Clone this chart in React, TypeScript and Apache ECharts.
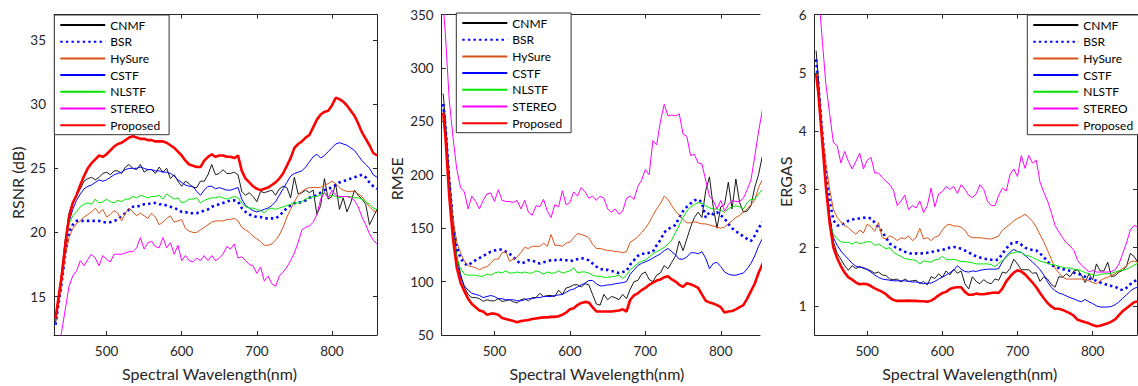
import React, { useEffect, useRef } from 'react';
import * as echarts from 'echarts';

// Wavelengths (nm)
const WL = [
  432, 435, 440, 445, 450, 455, 460, 465, 470, 475,
  480, 485, 490, 495, 500, 505, 510, 515, 520, 525,
  530, 535, 540, 545, 550, 555, 560, 565, 570, 575,
  580, 585, 590, 595, 600, 605, 610, 615, 620, 625,
  630, 635, 640, 645, 650, 655, 660, 665, 670, 675,
  680, 685, 690, 695, 700, 705, 710, 715, 720, 725,
  730, 735, 740, 745, 750, 755, 760, 765, 770, 775,
  780, 785, 790, 795, 800, 805, 810, 815, 820, 825,
  830, 835, 840, 845, 850, 855, 860,
];

const METHODS = ['CNMF', 'BSR', 'HySure', 'CSTF', 'NLSTF', 'STEREO', 'Proposed'];
const X_TICKS = [500, 600, 700, 800];

// ---------- RSNR (dB) ----------
const RSNR_CNMF = [
  13.2, 14.5, 16.8, 19.5, 21.5, 22.4, 22.9, 23.4, 24.0, 24.2,
  24.3, 24.1, 24.3, 24.6, 24.7, 24.5, 24.8, 24.8, 24.6, 25.1,
  25.3, 25.0, 24.9, 25.3, 24.7, 24.9, 24.9, 24.6, 25.1, 24.7,
  25.0, 24.2, 24.5, 24.0, 23.6, 24.0, 23.8, 23.5, 23.5, 24.0,
  24.0, 24.5, 25.3, 24.5, 24.6, 24.9, 24.6, 24.6, 24.7, 24.5,
  23.2, 22.9, 23.1, 22.8, 22.4, 23.2, 23.1, 23.2, 23.3, 22.9,
  23.4, 23.6, 23.5, 22.7, 24.3, 23.0, 23.1, 23.3, 23.1, 23.3,
  21.4, 22.1, 24.2, 22.6, 22.8, 23.8, 21.8, 22.7, 21.6, 22.3,
  23.3, 22.9, 22.6, 22.2, 20.6, 21.2, 21.8,
];
const RSNR_BSR = [
  12.8, 14.0, 16.0, 18.3, 20.0, 20.6, 20.9, 20.9, 20.9, 20.9,
  20.9, 20.9, 20.9, 20.8, 20.8, 20.8, 20.9, 21.0, 21.3, 21.5,
  21.8, 22.0, 22.0, 22.1, 22.2, 22.2, 22.3, 22.3, 22.2, 22.2,
  22.1, 22.0, 21.9, 21.8, 21.6, 21.6, 21.5, 21.5, 21.5, 21.6,
  21.7, 21.8, 22.0, 22.1, 22.2, 22.3, 22.4, 22.5, 22.5, 22.4,
  21.9, 21.6, 21.4, 21.3, 21.2, 21.2, 21.1, 21.1, 21.1, 21.1,
  21.3, 21.6, 21.9, 22.1, 22.3, 22.3, 22.4, 22.5, 22.7, 22.8,
  22.9, 23.1, 23.3, 23.4, 23.5, 23.7, 23.9, 24.0, 24.1, 24.2,
  24.3, 24.4, 24.5, 24.3, 23.9, 23.6, 23.4,
];
const RSNR_HYSURE = [
  12.9, 14.0, 16.0, 18.2, 19.6, 20.3, 20.7, 20.9, 21.2, 21.4,
  21.6, 21.9, 21.5, 21.8, 21.2, 21.4, 21.7, 21.5, 20.9, 21.5,
  21.9, 21.6, 21.3, 21.5, 21.3, 21.1, 21.5, 21.2, 20.6, 20.8,
  21.1, 21.3, 20.8, 20.9, 21.0, 20.3, 20.1, 20.0, 20.0, 20.2,
  20.4, 20.6, 20.8, 20.9, 20.9, 20.9, 21.0, 21.0, 21.1, 20.9,
  20.4, 20.2, 20.0, 19.7, 19.5, 19.3, 19.0, 19.0, 19.1, 19.4,
  19.8, 20.4, 21.2, 21.8, 22.4, 22.9, 23.2, 23.4, 23.5, 23.5,
  23.5, 23.5, 23.7, 23.8, 24.0, 23.8, 23.5, 23.3, 23.2, 23.2,
  23.2, 23.0, 22.8, 22.4, 22.0, 21.7, 21.6,
];
const RSNR_CSTF = [
  13.0, 14.3, 16.4, 18.8, 20.8, 21.8, 22.5, 23.0, 23.4, 23.6,
  23.7, 23.9, 24.1, 24.0, 24.1, 24.3, 24.5, 24.6, 24.7, 24.9,
  25.0, 25.0, 25.0, 25.1, 25.0, 24.9, 24.9, 24.8, 24.8, 24.7,
  24.7, 24.6, 24.4, 24.1, 23.9, 23.7, 23.6, 23.6, 23.2, 22.9,
  23.3, 23.6, 23.6, 23.4, 23.5, 23.4, 23.3, 23.3, 23.4, 23.5,
  22.6, 22.1, 21.9, 21.7, 21.6, 21.7, 21.8, 21.9, 22.1, 22.4,
  22.9, 23.4, 23.9, 24.4, 24.6, 24.7, 24.8, 25.1, 25.5, 25.9,
  26.1, 25.8, 26.0, 26.3, 26.6, 26.9, 27.0, 26.9, 26.8, 26.6,
  26.4, 26.0, 25.6, 25.3, 25.0, 24.5, 24.3,
];
const RSNR_NLSTF = [
  13.1, 14.4, 16.6, 19.0, 20.7, 21.3, 21.6, 22.0, 22.2, 22.3,
  22.2, 22.6, 22.3, 22.4, 22.6, 22.4, 22.3, 22.5, 22.4, 22.6,
  22.6, 22.8, 22.7, 22.9, 22.8, 22.7, 22.8, 22.8, 22.9, 22.6,
  23.0, 22.8, 22.6, 22.7, 22.3, 22.4, 22.6, 22.6, 22.7, 22.3,
  22.5, 22.6, 22.7, 22.7, 22.8, 22.7, 22.6, 22.7, 22.8, 22.7,
  22.3, 22.0, 21.9, 21.9, 21.8, 21.7, 21.5, 21.8, 21.9, 21.8,
  21.9, 22.0, 22.1, 22.2, 22.3, 22.3, 22.4, 22.6, 22.7, 22.8,
  22.8, 23.0, 23.1, 22.8, 22.9, 22.8, 22.7, 22.8, 22.8, 22.8,
  22.7, 22.7, 22.6, 22.4, 22.2, 21.9, 21.8,
];
const RSNR_STEREO = [
  9.5, 10.5, 12.2, 14.0, 15.8, 16.6, 17.0, 17.8, 17.4, 17.9,
  18.3, 18.0, 17.4, 18.2, 17.9, 17.7, 18.3, 18.3, 18.3, 18.4,
  18.5, 18.5, 18.8, 19.6, 18.7, 19.2, 19.3, 18.9, 18.8, 19.6,
  18.8, 19.2, 18.3, 19.0, 17.8, 18.2, 17.8, 17.7, 18.0, 17.8,
  18.2, 17.8, 18.2, 17.8, 18.0, 18.3, 18.9, 18.7, 19.1, 18.0,
  18.1, 17.8, 17.5, 17.4, 16.8, 17.3, 16.2, 16.6, 16.0, 15.8,
  16.6, 16.9, 17.3, 17.8, 18.4, 19.2, 20.2, 20.4, 20.5, 20.8,
  21.4, 22.6, 23.1, 22.7, 23.3, 22.9, 22.8, 22.8, 22.8, 22.7,
  22.5, 22.0, 21.2, 20.6, 19.9, 19.4, 19.1,
];
const RSNR_PROPOSED = [
  13.3, 14.5, 16.5, 19.0, 21.2, 22.3, 22.9, 23.7, 24.4, 25.0,
  25.4, 25.7, 26.0, 25.9, 26.1, 26.4, 26.7, 26.9, 27.0, 27.2,
  27.4, 27.5, 27.4, 27.3, 27.3, 27.2, 27.2, 27.1, 27.1, 27.1,
  27.0, 26.8, 26.6, 26.3, 26.0, 25.6, 25.3, 25.2, 25.1, 25.1,
  25.6, 25.9, 26.1, 25.9, 26.0, 26.0, 25.9, 25.9, 25.8, 26.0,
  24.8, 24.2, 23.9, 23.6, 23.4, 23.3, 23.4, 23.5, 23.7, 23.9,
  24.2, 24.6, 25.2, 25.8, 26.6, 26.9, 27.1, 27.4, 27.6, 28.2,
  28.8, 29.2, 29.4, 29.5, 29.9, 30.5, 30.4, 30.2, 29.9, 29.5,
  29.1, 28.5, 27.8, 27.3, 26.8, 26.2, 26.0,
];

// ---------- RMSE ----------
const RMSE_CNMF = [
  276, 250, 200, 158, 124, 107, 95, 88, 85, 85,
  84, 81.5, 83, 82, 82, 84, 81.5, 82, 83, 81,
  80, 83, 84, 82, 85, 85, 89, 86, 87, 87,
  86, 92, 88, 94, 95, 97, 97, 95, 98, 97,
  88, 79, 78, 88, 83, 86, 85, 83, 88, 84,
  93, 100, 101, 107, 109, 102, 100, 106, 108, 115,
  112, 118, 124, 138, 129, 140, 151, 160, 165, 160,
  185, 198, 170, 150, 170, 172, 193, 168, 196, 174,
  165, 166, 171, 188, 200, 217, 210,
];
const RMSE_BSR = [
  266, 245, 195, 155, 132, 122, 117, 115, 118, 120,
  122, 124, 126, 128, 129, 130, 130, 128, 126, 123,
  119, 117, 118, 120, 120, 118, 117, 118, 119, 120,
  120, 121, 120, 120, 119, 120, 121, 122, 121, 120,
  117, 114, 112, 111, 111, 110, 109, 108, 109, 110,
  116, 120, 124, 126, 126, 127, 128, 134, 139, 146,
  149, 151, 153, 160, 166, 170, 173, 176, 177, 174,
  160, 165, 163, 165, 162, 159, 154, 150, 147, 145,
  142, 140, 138, 143, 150, 155, 160,
];
const RMSE_HYSURE = [
  262, 240, 190, 158, 137, 127, 119, 115, 114, 113,
  111, 113, 114, 117, 121, 121, 127, 128, 119, 121,
  123, 127, 132, 131, 133, 133, 133, 136, 133, 144,
  134, 134, 133, 136, 137, 141, 145, 144, 143, 141,
  135, 131, 131, 130, 129, 129, 128, 128, 127, 128,
  137, 139, 142, 146, 150, 155, 162, 168, 173, 180,
  177, 171, 166, 162, 158, 155, 155, 156, 155, 154,
  154, 153, 152, 151, 150, 151, 154, 157, 160, 162,
  165, 168, 172, 176, 188, 195, 198,
];
const RMSE_CSTF = [
  262, 238, 185, 148, 118, 104, 96, 92, 89, 88,
  87, 85, 86, 87, 86, 84, 84, 83, 83, 83,
  82, 82, 83, 84, 84, 85, 85, 86, 86, 86,
  87, 87.5, 88, 90, 92, 93, 95, 97, 98.5, 101,
  101, 98, 96, 96, 97, 97, 98, 98.5, 99, 100,
  107, 111, 115, 117, 118.5, 120, 122, 124, 126, 129,
  131, 128, 125, 121, 121, 123, 127, 127, 126, 128,
  122, 112, 117, 118, 114, 109, 107, 106, 106, 107,
  108, 112, 117, 124, 133, 140, 145,
];
const RMSE_NLSTF = [
  258, 236, 185, 145, 122, 112, 107, 106, 106, 106,
  105, 105, 107, 106, 108, 109, 108, 110, 108, 108,
  109, 108, 109, 108, 108, 110, 109, 107, 109, 108,
  108, 110, 108, 109, 110, 113, 108, 109, 109, 108,
  106, 105, 105, 104, 104, 104.5, 105, 106, 103, 106,
  111, 114, 117, 119, 120, 123, 126, 128, 130, 132,
  135, 139, 146, 153, 160, 166, 170, 172, 174, 173,
  171, 169, 168, 168, 167, 165, 168, 170, 171, 170,
  168, 174, 177, 177, 182, 186, 190,
];
const RMSE_STEREO = [
  360, 330, 270, 235, 205, 188, 184, 168, 180, 175,
  168, 176, 182, 183, 175, 186, 176, 175, 175, 174,
  176, 168, 176, 165, 162, 171, 170, 177, 166, 160,
  172, 170, 185, 172, 174, 184, 180, 188, 184, 178,
  180, 176, 180, 178, 168, 165, 168, 163, 166, 178,
  180, 177, 189, 195, 205, 200, 232, 228, 250, 266,
  255, 256, 255, 257, 238, 236, 218, 219, 211, 210,
  195, 180, 176, 168, 176, 166, 172, 176, 175, 175,
  178, 186, 195, 217, 240, 260, 270,
];
const RMSE_PROPOSED = [
  258, 235, 180, 140, 113, 99, 91, 84, 79, 76,
  73, 72, 69, 70, 70, 69, 66, 65, 64, 63,
  62, 63, 63.5, 64, 65, 65.5, 66, 66.5, 66.5, 67,
  67, 67.5, 69, 71, 74, 75, 78, 80, 81, 80.5,
  76, 72, 72, 72, 72, 72, 72.5, 73, 74, 72,
  83, 87, 89, 92, 94, 97, 99, 101, 102, 104,
  105, 102, 100, 97, 95, 98.5, 97.5, 96, 94, 88,
  82, 80.5, 79.5, 78, 76, 71, 72, 72.5, 74, 76,
  78, 84, 91, 98, 108, 116, 122,
];

// ---------- ERGAS ----------
const ERGAS_CNMF = [
  5.38, 4.9, 4.0, 3.15, 2.55, 2.1, 1.9, 1.8, 1.69, 1.61,
  1.69, 1.64, 1.68, 1.64, 1.63, 1.6, 1.56, 1.58, 1.53, 1.52,
  1.46, 1.45, 1.46, 1.41, 1.46, 1.42, 1.43, 1.44, 1.38, 1.42,
  1.36, 1.5, 1.47, 1.55, 1.49, 1.6, 1.53, 1.63, 1.56, 1.6,
  1.38, 1.29, 1.5, 1.42, 1.38, 1.45, 1.4, 1.38, 1.46, 1.44,
  1.58, 1.56, 1.64, 1.8, 1.72, 1.62, 1.62, 1.62, 1.56, 1.57,
  1.42, 1.5, 1.46, 1.37, 1.32, 1.5, 1.49, 1.55, 1.5, 1.6,
  1.62, 1.53, 1.4, 1.55, 1.45, 1.72, 1.6, 1.6, 1.75, 1.5,
  1.52, 1.58, 1.61, 1.68, 1.9, 1.85, 1.75,
];
const ERGAS_BSR = [
  5.23, 4.8, 4.0, 3.3, 2.8, 2.47, 2.38, 2.38, 2.42, 2.46,
  2.48, 2.5, 2.5, 2.51, 2.52, 2.5, 2.43, 2.35, 2.27, 2.17,
  2.07, 2.02, 1.99, 1.96, 1.93, 1.91, 1.89, 1.9, 1.9, 1.9,
  1.91, 1.92, 1.94, 1.95, 1.96, 1.98, 2.0, 2.01, 2.0, 1.98,
  1.95, 1.92, 1.88, 1.85, 1.83, 1.81, 1.8, 1.79, 1.78, 1.8,
  1.9, 1.98, 2.06, 2.09, 2.09, 2.05, 2.0, 1.97, 1.96, 1.95,
  1.9, 1.84, 1.76, 1.7, 1.67, 1.65, 1.63, 1.62, 1.6, 1.57,
  1.55, 1.53, 1.5, 1.47, 1.45, 1.43, 1.4, 1.38, 1.36, 1.34,
  1.33, 1.29, 1.27, 1.31, 1.37, 1.42, 1.45,
];
const ERGAS_HYSURE = [
  5.0, 4.7, 4.0, 3.45, 3.0, 2.65, 2.52, 2.44, 2.38, 2.34,
  2.28, 2.23, 2.3, 2.25, 2.4, 2.36, 2.28, 2.43, 2.17, 2.15,
  2.2, 2.17, 2.12, 2.17, 2.15, 2.2, 2.12, 2.17, 2.33, 2.15,
  2.17, 2.12, 2.18, 2.2, 2.3, 2.38, 2.4, 2.37, 2.37, 2.35,
  2.3, 2.2, 2.17, 2.17, 2.17, 2.16, 2.15, 2.15, 2.17, 2.2,
  2.3, 2.35, 2.4, 2.46, 2.5, 2.53, 2.57, 2.52, 2.45, 2.35,
  2.22, 2.1, 1.95, 1.8, 1.65, 1.56, 1.5, 1.46, 1.46, 1.46,
  1.46, 1.46, 1.45, 1.43, 1.4, 1.38, 1.43, 1.47, 1.49, 1.52,
  1.55, 1.6, 1.64, 1.69, 1.75, 1.77, 1.75,
];
const ERGAS_CSTF = [
  5.0, 4.6, 3.85, 3.15, 2.55, 2.17, 2.04, 1.94, 1.87, 1.8,
  1.73, 1.68, 1.66, 1.66, 1.62, 1.58, 1.53, 1.49, 1.46, 1.45,
  1.44, 1.43, 1.43, 1.43, 1.43, 1.42, 1.41, 1.41, 1.4, 1.38,
  1.39, 1.39, 1.42, 1.46, 1.49, 1.53, 1.57, 1.61, 1.69, 1.63,
  1.59, 1.58, 1.6, 1.59, 1.61, 1.62, 1.63, 1.63, 1.63, 1.64,
  1.76, 1.85, 1.92, 1.97, 1.93, 1.92, 1.87, 1.81, 1.75, 1.69,
  1.62, 1.53, 1.41, 1.32, 1.26, 1.22, 1.2, 1.17, 1.14, 1.12,
  1.09, 1.07, 1.11, 1.07, 1.04, 1.0, 0.98, 0.98, 0.98, 0.99,
  1.02, 1.07, 1.13, 1.19, 1.25, 1.3, 1.32,
];
const ERGAS_NLSTF = [
  5.0, 4.6, 3.8, 3.0, 2.42, 2.23, 2.15, 2.1, 2.09, 2.09,
  2.06, 2.1, 2.07, 2.08, 2.1, 2.1, 2.04, 2.06, 2.02, 1.98,
  2.0, 1.92, 1.88, 1.85, 1.81, 1.8, 1.79, 1.78, 1.72, 1.77,
  1.76, 1.75, 1.79, 1.8, 1.85, 1.8, 1.79, 1.8, 1.78, 1.76,
  1.76, 1.75, 1.74, 1.72, 1.72, 1.72, 1.72, 1.71, 1.67, 1.73,
  1.78, 1.83, 1.9, 1.91, 1.93, 1.92, 1.86, 1.86, 1.83, 1.8,
  1.77, 1.75, 1.73, 1.71, 1.7, 1.68, 1.66, 1.65, 1.65, 1.63,
  1.62, 1.6, 1.57, 1.55, 1.54, 1.52, 1.54, 1.55, 1.55, 1.56,
  1.58, 1.6, 1.61, 1.63, 1.66, 1.7, 1.73,
];
const ERGAS_STEREO = [
  7.0, 6.4, 5.6, 4.8, 4.3, 3.8, 3.75, 3.45, 3.65, 3.48,
  3.35, 3.48, 3.62, 3.35, 3.5, 3.55, 3.28, 3.28, 3.2, 3.14,
  3.08, 2.98, 2.72, 2.8, 2.9, 2.65, 2.72, 2.68, 2.8, 2.6,
  2.72, 3.02, 2.7, 2.92, 2.96, 3.05, 3.0, 3.05, 2.93, 3.08,
  3.0, 2.9, 2.86, 2.92, 3.08, 3.0, 2.8, 2.72, 2.72, 2.9,
  3.02, 2.97, 3.25, 3.35, 3.22, 3.58, 3.36, 3.58, 3.45, 3.5,
  3.12, 2.95, 2.8, 2.6, 2.38, 2.27, 2.17, 2.08, 2.03, 1.95,
  1.78, 1.7, 1.64, 1.58, 1.61, 1.58, 1.58, 1.58, 1.58, 1.59,
  1.62, 1.72, 1.9, 2.08, 2.3, 2.38, 2.35,
];
const ERGAS_PROPOSED = [
  4.98, 4.65, 3.85, 3.05, 2.42, 2.0, 1.82, 1.68, 1.57, 1.49,
  1.45, 1.4, 1.37, 1.38, 1.37, 1.34, 1.3, 1.27, 1.24, 1.2,
  1.14, 1.1, 1.085, 1.085, 1.085, 1.09, 1.085, 1.085, 1.08, 1.08,
  1.07, 1.09, 1.13, 1.18, 1.22, 1.24, 1.29, 1.31, 1.32, 1.32,
  1.24, 1.19, 1.19, 1.21, 1.2, 1.2, 1.21, 1.22, 1.23, 1.22,
  1.3, 1.42, 1.5, 1.57, 1.61, 1.59, 1.54, 1.47, 1.4, 1.32,
  1.22, 1.13, 1.05, 0.99, 0.95, 0.95, 0.93, 0.9, 0.87, 0.83,
  0.76, 0.74, 0.72, 0.7, 0.67, 0.65, 0.66, 0.68, 0.7, 0.73,
  0.77, 0.84, 0.91, 0.96, 1.01, 1.06, 1.08,
];

const RSNR_TICKS = [15, 20, 25, 30, 35];
const ERGAS_TICKS = [1, 2, 3, 4, 5, 6];

const PANEL_SERIES = [
  [RSNR_CNMF, RSNR_BSR, RSNR_HYSURE, RSNR_CSTF, RSNR_NLSTF, RSNR_STEREO, RSNR_PROPOSED],
  [RMSE_CNMF, RMSE_BSR, RMSE_HYSURE, RMSE_CSTF, RMSE_NLSTF, RMSE_STEREO, RMSE_PROPOSED],
  [ERGAS_CNMF, ERGAS_BSR, ERGAS_HYSURE, ERGAS_CSTF, ERGAS_NLSTF, ERGAS_STEREO, ERGAS_PROPOSED],
];

const LINE_STYLES: any[] = [
  { color: '#000000', width: 0.9, type: 'solid' },
  { color: '#0000FF', width: 2.6, type: [2.4, 3.2] },
  { color: '#D95319', width: 1, type: 'solid' },
  { color: '#0000FF', width: 1, type: 'solid' },
  { color: '#00E600', width: 1, type: 'solid' },
  { color: '#FF00FF', width: 1, type: 'solid' },
  { color: '#FF0000', width: 2.6, type: 'solid' },
];

const FONT = 'Lato';
const AX = '#262626';

export default function App() {
  const ref = useRef<HTMLDivElement>(null);
  useEffect(() => {
    document.body.style.margin = '0';
    if (!ref.current) return;
    const chart = echarts.init(ref.current, undefined, { renderer: 'svg' });

    const grids = [
      { left: 54, top: 14.5, width: 323, height: 323.5 },
      { left: 441.7, top: 14.5, width: 318.3, height: 323.5 },
      { left: 814.6, top: 14.5, width: 322.4, height: 323.5 },
    ];
    const xMax = [860, 852, 859];
    const xNamePad = [[0, 12, 0, 0], [0, 8, 0, 0], [0, 12, 0, 0]];
    const yCfg: any[] = [
      { min: 12, max: 37, ticks: RSNR_TICKS, name: 'RSNR (dB)', gap: 29, pad: [0, 16, 0, 0] },
      { min: 50, max: 350, interval: 50, name: 'RMSE', gap: 37, pad: [0, 8, 0, 0] },
      { min: 0.5, max: 6, ticks: ERGAS_TICKS, name: 'ERGAS', gap: 21, pad: [0, 14, 0, 0] },
    ];
    const lineSt = { color: AX, width: 1 };
    const labelSt = { color: AX, fontSize: 13.5, fontFamily: FONT };

    const xAxis: any[] = [];
    const yAxis: any[] = [];
    for (let p = 0; p < 3; p++) {
      xAxis.push({
        type: 'value', gridIndex: p, min: 430, max: xMax[p], position: 'bottom',
        axisLine: { show: true, onZero: false, lineStyle: lineSt },
        axisTick: { show: true, inside: true, length: 4, customValues: X_TICKS, lineStyle: lineSt },
        axisLabel: { ...labelSt, customValues: X_TICKS, margin: 9 },
        splitLine: { show: false },
        name: 'Spectral Wavelength(nm)', nameLocation: 'middle', nameGap: 30,
        nameTextStyle: { color: AX, fontSize: 16, fontFamily: FONT, padding: xNamePad[p] },
      });
    }
    for (let p = 0; p < 3; p++) {
      xAxis.push({
        type: 'value', gridIndex: p, min: 430, max: xMax[p], position: 'top',
        axisLine: { show: true, onZero: false, lineStyle: lineSt },
        axisTick: { show: true, inside: true, length: 4, customValues: X_TICKS, lineStyle: lineSt },
        axisLabel: { show: false, customValues: X_TICKS },
        splitLine: { show: false },
      });
    }
    for (let p = 0; p < 3; p++) {
      const c = yCfg[p];
      const tickOpt: any = c.ticks ? { customValues: c.ticks } : {};
      yAxis.push({
        type: 'value', gridIndex: p, min: c.min, max: c.max,
        ...(c.interval ? { interval: c.interval } : {}),
        position: 'left',
        axisLine: { show: true, onZero: false, lineStyle: lineSt },
        axisTick: { show: true, inside: true, length: 4, lineStyle: lineSt, ...tickOpt },
        axisLabel: { ...labelSt, margin: 8, ...tickOpt },
        splitLine: { show: false },
        name: c.name, nameLocation: 'middle', nameGap: c.gap,
        nameTextStyle: { color: AX, fontSize: 16, fontFamily: FONT, padding: c.pad },
      });
    }
    [0, 2].forEach((p) => {
      const c = yCfg[p];
      yAxis.push({
        type: 'value', gridIndex: p, min: c.min, max: c.max, position: 'right',
        axisLine: { show: true, onZero: false, lineStyle: lineSt },
        axisTick: { show: true, inside: true, length: 4, lineStyle: lineSt, customValues: c.ticks },
        axisLabel: { show: false, customValues: c.ticks },
        splitLine: { show: false },
      });
    });

    const series: any[] = [];
    for (let p = 0; p < 3; p++) {
      PANEL_SERIES[p].forEach((vals, i) => {
        series.push({
          type: 'line', name: METHODS[i], xAxisIndex: p, yAxisIndex: p,
          data: WL.map((w, k) => [w, vals[k]]),
          symbol: 'none', showSymbol: false, clip: true,
          lineStyle: { ...LINE_STYLES[i], cap: 'butt' },
          itemStyle: { color: LINE_STYLES[i].color, opacity: 0 },
          z: 2 + i * 0.01,
          silent: true,
        });
      });
    }

    const legendBase = {
      orient: 'vertical', data: METHODS, itemWidth: 45, itemHeight: 12, itemGap: 4.7,
      padding: [4, 9, 3.5, 5], backgroundColor: '#ffffff', borderColor: '#333333', borderWidth: 1,
      borderRadius: 0, selectedMode: false, align: 'left', z: 10,
      itemStyle: { opacity: 0 },
      textStyle: { fontSize: 12, fontFamily: FONT, color: '#000000' },
    };
    const legend = [
      { ...legendBase, left: 54.3, top: 15 },
      { ...legendBase, left: 456.3, top: 13 },
      { ...legendBase, left: 1027.3, top: 15 },
    ];

    chart.setOption({
      animation: false,
      backgroundColor: '#ffffff',
      grid: grids.map((g) => ({ ...g, containLabel: false })),
      xAxis, yAxis, series, legend,
    });
    return () => chart.dispose();
  }, []);
  return <div ref={ref} style={{ width: 1138, height: 386 }} />;
}
